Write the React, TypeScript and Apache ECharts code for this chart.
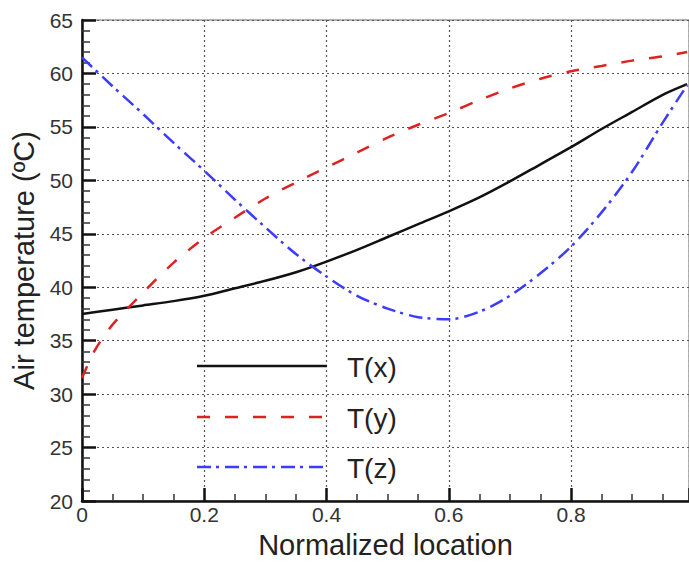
import React, { useEffect, useRef } from "react";
import * as echarts from "echarts";

const xs = [0, 0.05, 0.1, 0.15, 0.2, 0.25, 0.3, 0.35, 0.4, 0.45, 0.5, 0.55, 0.6, 0.65, 0.7, 0.75, 0.8, 0.85, 0.9, 0.95, 0.99];
const tx = [37.5, 37.9, 38.3, 38.7, 39.2, 39.9, 40.6, 41.4, 42.4, 43.5, 44.7, 45.9, 47.1, 48.4, 49.9, 51.5, 53.1, 54.8, 56.4, 58.0, 59.0];
const ty = [31.5, 36.5, 39.5, 42.3, 44.6, 46.5, 48.3, 49.8, 51.2, 52.6, 54.0, 55.2, 56.3, 57.5, 58.6, 59.5, 60.2, 60.7, 61.2, 61.6, 62.0];
const tyStartX = [0, 0.02];
const tyStart = [31.5, 34.0];
const tz = [61.5, 58.8, 56.2, 53.5, 50.9, 48.2, 45.6, 43.1, 41.0, 39.2, 38.0, 37.2, 37.0, 37.7, 39.2, 41.3, 43.8, 47.0, 50.8, 55.4, 58.9];
const seriesNames = ["T(x)", "T(y)", "T(z)"];
const xTickLabels = ["0", "0.2", "0.4", "0.6", "0.8"];

const COLORS = ["#111111", "#dd2222", "#3c3cff"];
const DASHES: any[] = ["solid", [13, 15], [14, 5, 3, 6]];
const FONT = "Liberation Sans, Arial, sans-serif";

function pairs(x: number[], y: number[]) {
  return x.map((v, i) => [v, y[i]]);
}

export default function App() {
  const ref = useRef<HTMLDivElement>(null);
  useEffect(() => {
    if (!ref.current) return;
    const chart = echarts.init(ref.current, null, { renderer: "svg" });
    const tyPts = [[tyStartX[0], tyStart[0]], [tyStartX[1], tyStart[1]], ...pairs(xs.slice(1), ty.slice(1))];
    const data = [pairs(xs, tx), tyPts, pairs(xs, tz)];
    const legendY = [366, 417, 467];
    const graphic: any[] = [];
    seriesNames.forEach((n, i) => {
      graphic.push({
        type: "line",
        shape: { x1: 197, y1: legendY[i], x2: 327, y2: legendY[i] },
        style: { stroke: COLORS[i], lineWidth: 2.5, lineDash: DASHES[i] === "solid" ? null : DASHES[i] },
        z: 10,
      });
      graphic.push({
        type: "text",
        x: 347,
        y: legendY[i] + 1,
        style: { text: n, fontSize: 28, fontFamily: FONT, fill: "#222", textVerticalAlign: "middle" },
        z: 10,
      });
    });
    chart.setOption({
      animation: false,
      grid: { left: 82, top: 20, right: 0, bottom: 57, show: true, borderColor: "#999", borderWidth: 1.5 },
      xAxis: {
        type: "value",
        min: 0,
        max: 0.993,
        interval: 0.2,
        name: "Normalized location",
        nameLocation: "middle",
        nameGap: 29,
        nameTextStyle: { fontSize: 29, fontFamily: FONT, color: "#222" },
        axisLine: { lineStyle: { color: "#111", width: 2.5 } },
        axisTick: { inside: true, length: 13, lineStyle: { color: "#111", width: 2.5 } },
        minorTick: { show: true, splitNumber: 4, length: 7, lineStyle: { color: "#333", width: 1.5 } },
        axisLabel: {
          fontSize: 21,
          fontFamily: FONT,
          color: "#333",
          margin: 3,
          showMaxLabel: false,
          formatter: (v: number) => {
            const idx = Math.round(v / 0.2);
            return Math.abs(v - idx * 0.2) < 1e-6 && idx < xTickLabels.length ? xTickLabels[idx] : "";
          },
        },
        splitLine: { show: true, lineStyle: { color: "#555", width: 1.2, type: [2, 3] } },
      },
      yAxis: {
        type: "value",
        min: 20,
        max: 65,
        interval: 5,
        name: "Air temperature (ºC)",
        nameLocation: "middle",
        nameGap: 44,
        nameTextStyle: { fontSize: 29, fontFamily: FONT, color: "#222" },
        axisLine: { lineStyle: { color: "#111", width: 2.5 } },
        axisTick: { inside: true, length: 14, lineStyle: { color: "#111", width: 2.5 } },
        minorTick: { show: true, splitNumber: 5, length: 8, lineStyle: { color: "#333", width: 1.5 } },
        axisLabel: { fontSize: 21, fontFamily: FONT, color: "#333", margin: 9 },
        splitLine: { show: true, lineStyle: { color: "#555", width: 1.2, type: [2, 3] } },
      },
      series: seriesNames.map((n, i) => ({
        name: n,
        type: "line",
        data: data[i],
        showSymbol: false,
        smooth: 0.3,
        lineStyle: { color: COLORS[i], width: 2.5, type: DASHES[i] },
        z: 5,
      })),
      graphic,
    });
    return () => chart.dispose();
  }, []);
  return <div ref={ref} style={{ position: "fixed", left: 0, top: 0, width: 689, height: 564, background: "#fff" }} />;
}
